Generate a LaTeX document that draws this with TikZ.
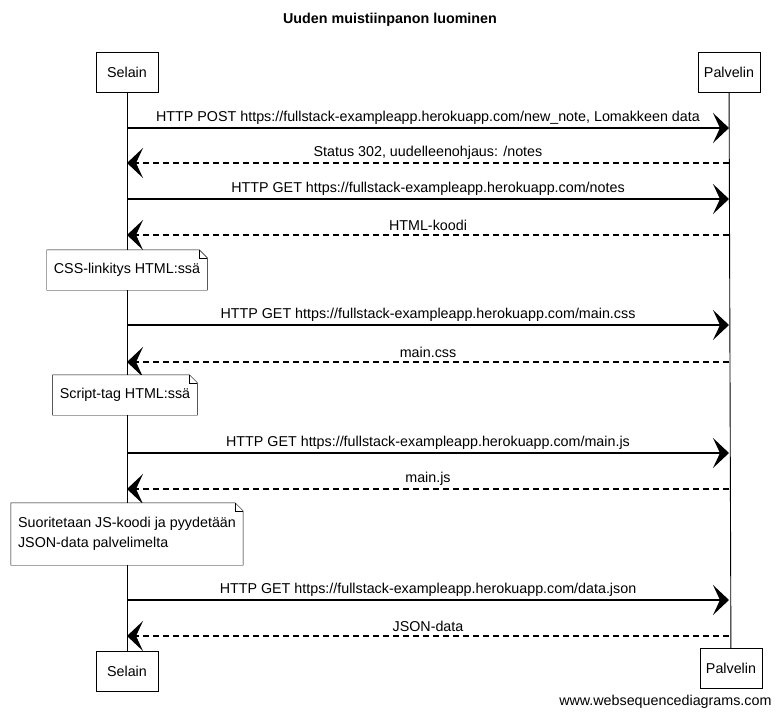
\documentclass[tikz,border=0pt]{standalone}
\usepackage{fontspec}
\setmainfont{Liberation Sans}
\usetikzlibrary{arrows.meta}
\newcommand{\dogear}[1]{%
  \draw (#1.south west) -- (#1.north west) -- ([xshift=-8pt]#1.north east) -- ([yshift=-8pt]#1.north east) -- (#1.south east) -- cycle;
  \draw ([xshift=-8pt]#1.north east) |- ([yshift=-8pt]#1.north east);}

\begin{document}
\begin{tikzpicture}[x=1pt,y=-1pt,font=\fontsize{14.3}{20}\selectfont,
    actor/.style={draw,rectangle,minimum width=62pt,minimum height=40pt,inner sep=4pt},
    note/.style={fill=white,rectangle,minimum height=40pt,inner xsep=7pt,inner ysep=5pt},
    msg/.style={line width=1.2pt,->,>={Stealth[length=16pt,width=30pt,inset=7pt]}},
    ret/.style={msg,dash pattern=on 6pt off 4pt}]
  \useasboundingbox (0,0) rectangle (782,715);
  \node[font=\fontsize{14.3}{16}\selectfont\bfseries] (Title) at (390,20) {Uuden muistiinpanon luominen};
  \node[actor] (SelTop) at (127,72) {Selain};
  \node[actor] (PalTop) at (729,72) {Palvelin};
  \node[actor] (SelBot) at (127,671) {Selain};
  \node[actor] (PalBot) at (731,668) {Palvelin};
  \draw[line width=0.9pt] (SelTop) -- (SelBot);
  \draw[line width=0.9pt] (PalTop) -- (PalBot);
  % pyynnot ja vastaukset
  \draw[msg] (SelTop |- 0,128) -- (PalTop |- 0,128) node[midway,above=0pt] {HTTP POST https://fullstack-exampleapp.herokuapp.com/new\_note, Lomakkeen data};
  \draw[ret] (PalTop |- 0,163) -- (SelTop |- 0,163) node[midway,above=0pt] {Status 302, uudelleenohjaus: /notes};
  \draw[msg] (SelTop |- 0,199) -- (PalTop |- 0,199) node[midway,above=0pt] {HTTP GET https://fullstack-exampleapp.herokuapp.com/notes};
  \draw[ret] (PalTop |- 0,235) -- (SelTop |- 0,235) node[midway,above=0pt] {HTML-koodi};
  \node[note] (CssNote) at (127,270) {CSS-linkitys HTML:ssä};
  \dogear{CssNote}
  \draw[msg] (SelTop |- 0,325) -- (PalTop |- 0,325) node[midway,above=0pt] {HTTP GET https://fullstack-exampleapp.herokuapp.com/main.css};
  \draw[ret] (PalTop |- 0,362) -- (SelTop |- 0,362) node[midway,above=0pt] {main.css};
  \node[note] (ScriptNote) at (125,395) {Script-tag HTML:ssä};
  \dogear{ScriptNote}
  \draw[msg] (SelTop |- 0,453) -- (PalTop |- 0,453) node[midway,above=0pt] {HTTP GET https://fullstack-exampleapp.herokuapp.com/main.js};
  \draw[ret] (PalTop |- 0,489) -- (SelTop |- 0,489) node[midway,above=0pt] {main.js};
  \node[note,align=left,minimum height=62pt] (JsNote) at (127,534) {Suoritetaan JS-koodi ja pyydetään\\JSON-data palvelimelta};
  \dogear{JsNote}
  \draw[msg] (SelTop |- 0,600) -- (PalTop |- 0,600) node[midway,above=0pt] {HTTP GET https://fullstack-exampleapp.herokuapp.com/data.json};
  \draw[ret] (PalTop |- 0,636) -- (SelTop |- 0,636) node[midway,above=0pt] {JSON-data};
  \node[anchor=east] (Footer) at (775,702) {www.websequencediagrams.com};
\end{tikzpicture}
\end{document}
